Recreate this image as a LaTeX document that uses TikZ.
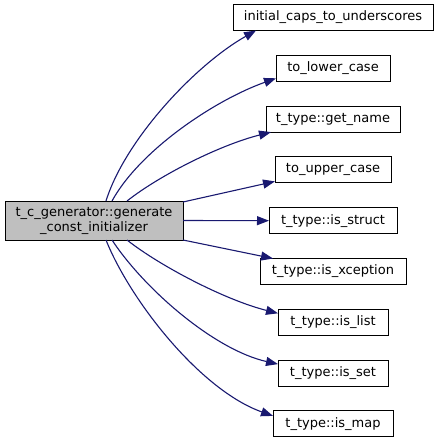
\documentclass[tikz,border=0pt]{standalone}
\usepackage{fontspec}
\setmainfont{DejaVu Sans}
\usetikzlibrary{arrows.meta,calc}
\definecolor{edgeblue}{RGB}{25,25,112}
\definecolor{mainfill}{RGB}{191,191,191}
\def\px{0.75pt}
\begin{document}
\begin{tikzpicture}[x=0.75pt,y=0.75pt,
  box/.style={draw=black, line width=1*\px, inner sep=0pt, outer sep=0pt,
    minimum height=26*\px, font=\fontsize{9.75}{11.25}\selectfont, fill=white},
  edge/.style={draw=edgeblue, line width=1.1*\px,
    -{Triangle[length=12*\px, width=9*\px]}}]
\useasboundingbox (0,0) rectangle (440,-443);
\node[box, fill=mainfill, minimum width=178*\px, minimum height=39*\px, align=center] (main) at (94,-220.5) {t\_c\_generator::generate\\\_const\_initializer};
\node[box, minimum width=200*\px] (ic) at (333,-17.5) {initial\_caps\_to\_underscores};
\node[box, minimum width=114*\px] (tl) at (333,-68.3) {to\_lower\_case};
\node[box, minimum width=134*\px] (gn) at (333,-119.1) {t\_type::get\_name};
\node[box, minimum width=116*\px] (tu) at (333,-169.9) {to\_upper\_case};
\node[box, minimum width=128*\px] (st) at (333,-220.7) {t\_type::is\_struct};
\node[box, minimum width=146*\px] (ix) at (333,-271.5) {t\_type::is\_xception};
\node[box, minimum width=110*\px] (il) at (333,-322.3) {t\_type::is\_list};
\node[box, minimum width=110*\px] (se) at (333,-373.1) {t\_type::is\_set};
\node[box, minimum width=120*\px] (im) at (333,-423.9) {t\_type::is\_map};
\draw[edge] ($(main.north west)+(101,0)$) .. controls (125,-140) and (195,-65) .. ($(ic.south west)+(23,0)$);
\draw[edge] ($(main.north west)+(107,0)$) .. controls (140,-150) and (215,-100) .. ($(tl.south west)+(0,3)$);
\draw[edge] ($(main.north west)+(122,0)$) .. controls (160,-175) and (220,-145) .. ($(gn.south west)+(5,0)$);
\draw[edge] ($(main.north east)+(0,-1)$) -- ($(tu.south west)+(0,1.5)$);
\draw[edge] (main.east) -- (st.west);
\draw[edge] (main.south east) -- ($(ix.north west)+(13,0)$);
\draw[edge] ($(main.south west)+(122,0)$) .. controls (160,-266) and (225,-300) .. ($(il.north west)+(0,-4)$);
\draw[edge] ($(main.south west)+(107,0)$) .. controls (145,-290) and (215,-350) .. ($(se.north west)+(0,-4)$);
\draw[edge] ($(main.south west)+(101,0)$) .. controls (130,-300) and (200,-390) .. ($(im.north west)+(0,-5)$);
\end{tikzpicture}
\end{document}
